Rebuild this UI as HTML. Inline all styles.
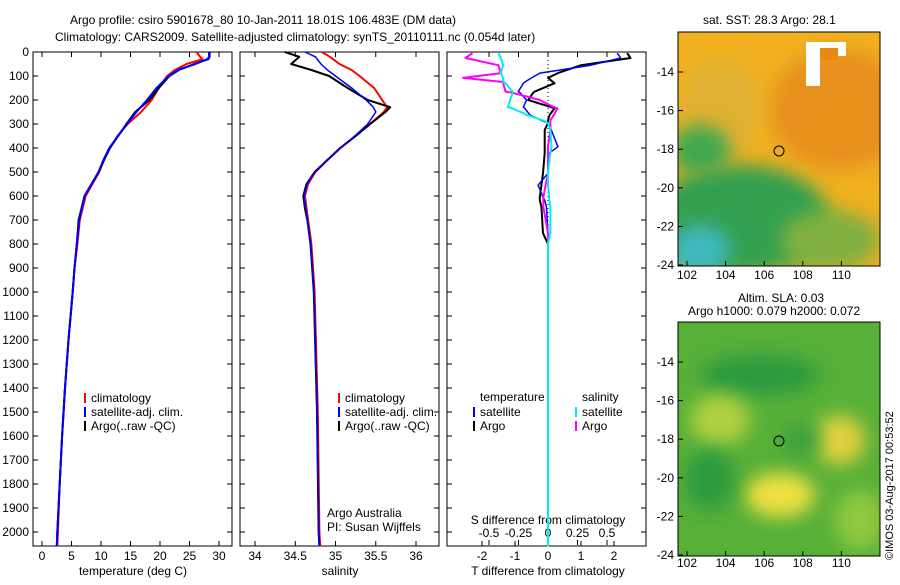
<!DOCTYPE html>
<html><head><meta charset="utf-8"><style>
body{margin:0;background:#fff;}
svg text{font-family:"Liberation Sans",sans-serif;font-size:12px;fill:#000;}
</style></head><body>
<svg id="c" width="900" height="580" xmlns="http://www.w3.org/2000/svg">
<defs>
<filter id="bl" x="-50%" y="-50%" width="200%" height="200%"><feGaussianBlur stdDeviation="9"/></filter>
<clipPath id="m1"><rect x="678" y="32" width="202" height="234"/></clipPath>
<clipPath id="m2"><rect x="678" y="322" width="202" height="234"/></clipPath>
</defs>
<text x="70" y="24">Argo profile: csiro 5901678_80 10-Jan-2011 18.01S 106.483E (DM data)</text>
<text x="55" y="41">Climatology: CARS2009. Satellite-adjusted climatology: synTS_20110111.nc (0.054d later)</text>

<g clip-path="url(#m1)">
<rect x="678" y="32" width="202" height="234" fill="#f0b020"/>
<ellipse cx="840" cy="110" rx="70" ry="60" fill="#e8901a" filter="url(#bl)"/>
<ellipse cx="720" cy="110" rx="40" ry="50" fill="#e0b030" filter="url(#bl)"/>
<ellipse cx="740" cy="220" rx="90" ry="55" fill="#30a050" filter="url(#bl)"/>
<ellipse cx="700" cy="150" rx="30" ry="25" fill="#40a850" filter="url(#bl)"/>
<ellipse cx="830" cy="240" rx="50" ry="30" fill="#80b040" filter="url(#bl)"/>
<ellipse cx="700" cy="250" rx="30" ry="25" fill="#40b8c0" filter="url(#bl)"/>
<rect x="806" y="42" width="40" height="14" fill="#fff"/><rect x="806" y="42" width="14" height="44" fill="#fff"/><rect x="820" y="48" width="18" height="12" fill="#e88a10"/>
</g>
<rect x="678" y="32" width="202" height="234" fill="none" stroke="#000"/>
<circle cx="779" cy="151" r="5" fill="none" stroke="#000"/>
<text x="703" y="24">sat. SST: 28.3 Argo: 28.1</text>

<g clip-path="url(#m2)">
<rect x="678" y="322" width="202" height="234" fill="#58b038"/>
<ellipse cx="760" cy="375" rx="60" ry="20" fill="#2a9a40" filter="url(#bl)"/>
<ellipse cx="720" cy="420" rx="30" ry="25" fill="#b0d040" filter="url(#bl)"/>
<ellipse cx="840" cy="440" rx="25" ry="25" fill="#e0d040" filter="url(#bl)"/>
<ellipse cx="780" cy="495" rx="35" ry="22" fill="#f0e040" filter="url(#bl)"/>
<ellipse cx="710" cy="480" rx="25" ry="30" fill="#2a9a40" filter="url(#bl)"/>
<ellipse cx="860" cy="520" rx="25" ry="30" fill="#90c840" filter="url(#bl)"/>
<ellipse cx="800" cy="440" rx="20" ry="15" fill="#3aa040" filter="url(#bl)"/>
</g>
<rect x="678" y="322" width="202" height="234" fill="none" stroke="#000"/>
<circle cx="779" cy="441" r="5" fill="none" stroke="#000"/>
<text x="738" y="302">Altim. SLA: 0.03</text>
<text x="688" y="315">Argo h1000: 0.079 h2000: 0.072</text>
<text transform="translate(893,560) rotate(-90)" style="font-size:11px">©IMOS 03-Aug-2017 00:53:52</text>
<g id="g"></g>
</svg>
<script>
// ---- data ----
const depthT = [0,20,30,50,75,100,150,200,250,300,350,400,450,500,600,700,800,900,1000,1200,1400,1600,1800,2000,2060];
const tempClim = [26.2,26.8,27.2,24.5,22.5,21.2,19.8,18.6,16.8,14.5,12.8,11.5,10.5,9.7,7.4,6.4,6.0,5.5,5.2,4.5,3.9,3.4,3.0,2.7,2.6];
const tempSat  = [28.3,28.3,28.0,26.0,23.0,21.5,19.4,17.8,16.0,14.4,12.9,11.4,10.4,9.6,7.2,6.3,5.9,5.5,5.2,4.5,3.9,3.4,3.0,2.6,2.5];
const tempArgo = [28.4,28.4,28.2,25.8,23.2,21.6,19.8,18.2,15.8,14.3,12.9,11.5,10.5,9.6,7.2,6.2,5.9,5.5,5.2,4.5,3.9,3.4,3.0,2.6,2.5];
const depthS = [0,20,50,75,100,150,200,230,250,300,350,400,450,500,550,600,650,700,800,1000,1500,2000,2060];
const salClim = [34.83,34.93,35.05,35.2,35.3,35.48,35.58,35.64,35.6,35.43,35.25,35.06,34.9,34.75,34.66,34.62,34.64,34.66,34.70,34.74,34.78,34.80,34.81];
const salSat  = [34.62,34.75,34.82,34.9,35.0,35.2,35.38,35.47,35.5,35.4,35.24,35.06,34.9,34.74,34.65,34.61,34.63,34.65,34.69,34.73,34.77,34.79,34.80];
const salArgo = [34.37,34.55,34.45,34.7,34.92,35.15,35.4,35.68,35.62,35.43,35.25,35.06,34.9,34.74,34.64,34.6,34.62,34.65,34.69,34.73,34.77,34.79,34.80];
const depthD = [5,25,55,88,108,125,130,165,170,200,230,235,262,285,296,325,395,420,505,555,605,617,645,755,800,1000,1500,2000,2060];
const tdiffSat  = [2.1,2.2,1.3,-0.25,-0.5,-0.7,-0.75,-0.9,-0.85,-0.65,-0.75,-0.7,-0.55,-0.2,0,0.1,0.3,0.05,0,-0.3,-0.15,-0.1,-0.05,0,0,0,0,0,0];
const tdiffArgo = [2.4,2.5,1.0,0.3,0,0.15,0.2,-0.4,-0.45,-0.6,0.1,0.2,0.05,0,0,-0.1,-0.1,-0.1,-0.15,-0.2,-0.25,-0.25,-0.2,-0.15,0,0,0,0,0];
const sdiffArgo = [-0.64,-0.7,-0.42,-0.4,-0.72,-0.38,-0.38,-0.36,-0.3,-0.07,0.05,0.08,0.05,0.02,0.02,0.02,0,0,0,-0.02,-0.04,-0.04,-0.04,0,0,0,0,0,0];
const sdiffSat  = [-0.42,-0.4,-0.38,-0.4,-0.38,-0.38,-0.36,-0.3,-0.3,-0.32,-0.34,-0.3,-0.18,-0.04,0,0.02,0.03,0.02,0,0,0.01,0.01,0.02,0.02,0,0,0,0,0];
const depthTicks = [0,100,200,300,400,500,600,700,800,900,1000,1100,1200,1300,1400,1500,1600,1700,1800,1900,2000];
const tTicks = [0,5,10,15,20,25,30];
const sTicks = [34,34.5,35,35.5,36];
const tdTicks = [-2,-1,0,1,2];
const sdTicks = [-0.5,-0.25,0,0.25,0.5];
const lonTicks = [102,104,106,108,110];
const latTicks = [-14,-16,-18,-20,-22,-24];

// ---- axes ----
const g = document.getElementById('g');
const NS = 'http://www.w3.org/2000/svg';
const TOP = 52, BOT = 546;
const yD = d => TOP + d * 0.24;
const xT = v => 42 + v * 5.9;
const xS = v => 255 + (v - 34) * 80.5;
const xTD = v => 548 + v * 33;
const xSD = v => 548 + v * 118;
const lonX = v => 687 + (v - 102) * 19.3;
const latY = (v, top) => top + 40 + (-14 - v) * 19.3;
function el(tag, at, parent) { const e = document.createElementNS(NS, tag); for (const k in at) e.setAttribute(k, at[k]); (parent || g).appendChild(e); return e; }
function txt(x, y, s, anchor) { const t = el('text', {x: x, y: y, 'text-anchor': anchor || 'start'}); t.textContent = s; return t; }

const panels = [[33, 232, 'temperature-panel'], [240, 439, 'salinity-panel'], [447, 646, 'difference-panel']];
panels.forEach(p => {
  const r = el('rect', {x: p[0], y: TOP, width: p[1] - p[0], height: BOT - TOP, fill: 'none', stroke: '#000'});
  
  
  depthTicks.forEach(d => {
    el('line', {x1: p[0], x2: p[0] + 5, y1: yD(d), y2: yD(d), stroke: '#000'});
    el('line', {x1: p[1], x2: p[1] - 5, y1: yD(d), y2: yD(d), stroke: '#000'});
  });
});
depthTicks.forEach(d => {
  const t = txt(29, yD(d) + 4, String(d), 'end');
  
  
});
function xticks(ticks, fx, y0, up, labY) {
  ticks.forEach(v => {
    el('line', {x1: fx(v), x2: fx(v), y1: y0, y2: y0 + (up ? -5 : 5), stroke: '#000'});
    if (labY) {
      const t = txt(fx(v), labY, String(v), 'middle');
      
      
    }
  });
}
xticks(tTicks, xT, BOT, true, 560); xticks(tTicks, xT, TOP, false);
xticks(sTicks, xS, BOT, true, 560); xticks(sTicks, xS, TOP, false);
xticks(tdTicks, xTD, BOT, true, 560); xticks(sdTicks, xSD, TOP, false);
xticks(sdTicks, xSD, BOT - 1, true, 537);
let t;
t = txt(133, 575, 'temperature (deg C)', 'middle');  
t = txt(340, 575, 'salinity', 'middle');  
t = txt(548, 575, 'T difference from climatology', 'middle');  
t = txt(548, 524, 'S difference from climatology', 'middle');  
el('line', {x1: xTD(0), x2: xTD(0), y1: TOP, y2: yD(2000), stroke: '#000', 'stroke-dasharray': '1,3'});

function line(xs, ds, fx, color, w, name) {
  const pts = xs.map((v, i) => fx(v).toFixed(1) + ',' + yD(ds[i]).toFixed(1)).join(' ');
  const p = el('polyline', {points: pts, fill: 'none', stroke: color, 'stroke-width': w, 'stroke-linejoin': 'round'});
  
  
}
line(tempClim, depthT, xT, '#f00', 2, 'temp-climatology-line');
line(tempArgo, depthT, xT, '#000', 2, 'temp-argo-line');
line(tempSat, depthT, xT, '#00f', 2, 'temp-satellite-line');
line(salClim, depthS, xS, '#f00', 2, 'sal-climatology-line');
line(salArgo, depthS, xS, '#000', 2, 'sal-argo-line');
line(salSat, depthS, xS, '#00f', 1.5, 'sal-satellite-line');
line(tdiffArgo, depthD, xTD, '#000', 2, 'tdiff-argo-line');
line(tdiffSat, depthD, xTD, '#00f', 1.5, 'tdiff-satellite-line');
line(sdiffArgo, depthD, xSD, '#f0f', 2, 'sdiff-argo-line');
line(sdiffSat, depthD, xSD, '#0ee', 2, 'sdiff-satellite-line');

function legend(x, y, entries, name) {
  entries.forEach((e, i) => {
    const yy = y + i * 14;
    el('line', {x1: x, x2: x, y1: yy - 6, y2: yy + 4, stroke: e[1], 'stroke-width': 2});
    const t = txt(x + 6, yy + 3, e[0]);
    
    
  });
}
const legE = [['climatology', '#f00'], ['satellite-adj. clim.', '#00f'], ['Argo(..raw -QC)', '#000']];
legend(85, 399, legE, 'temp-legend');
legend(339, 399, legE, 'sal-legend');
t = txt(480, 401, 'temperature');  
t = txt(582, 401, 'salinity');  
legend(474, 413, [['satellite', '#00f'], ['Argo', '#000']], 'tdiff-legend');
legend(576, 413, [['satellite', '#0ee'], ['Argo', '#f0f']], 'sdiff-legend');
t = txt(327, 517, 'Argo Australia');  
t = txt(327, 531, 'PI: Susan Wijffels');  

[32, 322].forEach(top => {
  lonTicks.forEach(v => {
    el('line', {x1: lonX(v), x2: lonX(v), y1: top + 234, y2: top + 229, stroke: '#000'});
    const tt = txt(lonX(v), top + 245 + (top === 322 ? 0 : 2), String(v), 'middle');
    
    
  });
  latTicks.forEach(v => {
    const y = latY(v, top);
    el('line', {x1: 678, x2: 683, y1: y, y2: y, stroke: '#000'});
    const tt = txt(674, y + 4, String(v), 'end');
    
    
  });
});
</script>
</body></html>
